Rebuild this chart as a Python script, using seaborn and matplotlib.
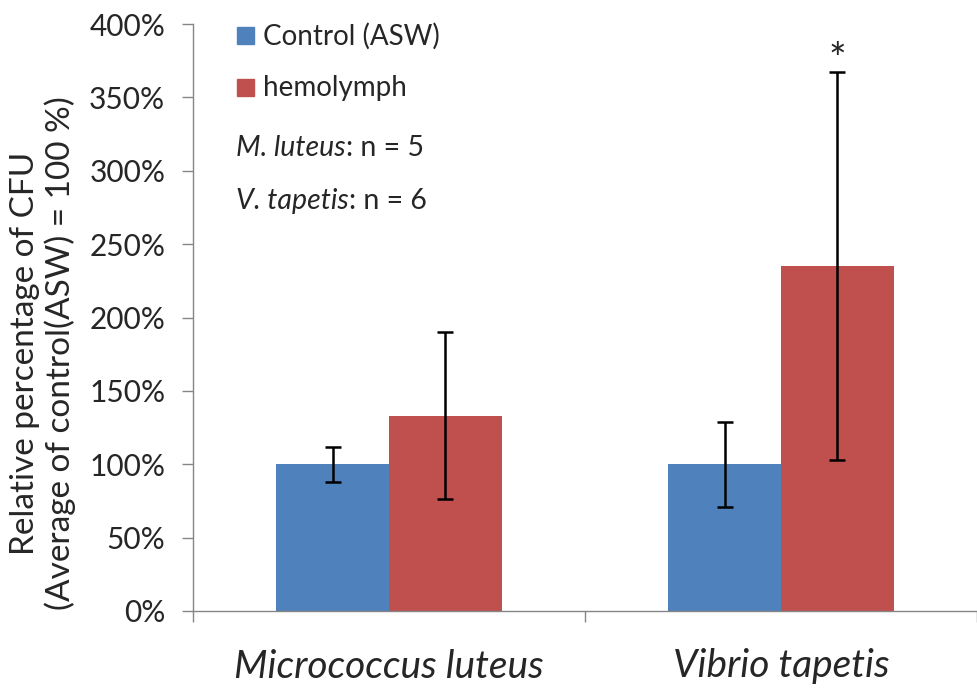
import matplotlib
matplotlib.use("Agg")
import matplotlib.pyplot as plt
import seaborn as sns
import pandas as pd
import numpy as np
from matplotlib.patches import Rectangle

categories = ["Micrococcus luteus", "Vibrio tapetis"]
groups = ["Control (ASW)", "hemolymph"]
control_vals = [100, 100]
hemo_vals = [133, 235]
control_err_low = [88, 71]
control_err_high = [112, 129]
hemo_err_low = [76, 103]
hemo_err_high = [190, 367]
yticks = [0, 50, 100, 150, 200, 250, 300, 350, 400]
colors = ["#4F81BD", "#C0504D"]

sns.set_style("white")
plt.rcParams['font.family'] = ['Lato', 'DejaVu Sans']

df = pd.DataFrame({
    "cat": categories * 2,
    "grp": [groups[0]] * 2 + [groups[1]] * 2,
    "val": control_vals + hemo_vals,
})

fig = plt.figure(figsize=(9.77, 6.88), dpi=100)
ax = fig.add_axes([193/977, 1 - 611/688, 1 - 193/977, (611 - 24)/688])
sns.barplot(data=df, x="cat", y="val", hue="grp", palette=colors, width=0.576,
            gap=0, errorbar=None, ax=ax, legend=False, saturation=1, linewidth=0)

# error bars
w = 0.576 / 2
for i in range(2):
    for j, (vals, lo, hi) in enumerate([(control_vals, control_err_low, control_err_high),
                                         (hemo_vals, hemo_err_low, hemo_err_high)]):
        x = i - w / 2 + j * w
        ax.errorbar(x, vals[i], yerr=[[vals[i] - lo[i]], [hi[i] - vals[i]]],
                    fmt='none', ecolor='black', elinewidth=1.8, capsize=6, capthick=1.8)

ax.text(1 + w / 2, 362, "*", ha='center', va='bottom', fontsize=30)

ax.set_xlim(-0.5, 1.5)
ax.set_ylim(0, 400)
ax.set_yticks(yticks)
ax.set_yticklabels([f"{v}%" for v in yticks], fontsize=21.5)
ax.set_xticks([0, 1])
ax.set_xticklabels(categories, fontsize=28, style='italic')
ax.set_xticks([-0.5, 0.5, 1.5], minor=True)
ax.tick_params(axis='x', which='major', length=0, pad=27)
ax.tick_params(axis='x', which='minor', length=8, color='#868686', width=1, bottom=True)
ax.tick_params(axis='y', length=8, color='#868686', width=1, left=True, pad=12)
ax.set_xlabel("")
ax.set_ylabel("Relative percentage of CFU\n(Average of control(ASW) = 100 %)", fontsize=24,
              linespacing=1.15)
ax.yaxis.label.set_va('center')
ax.yaxis.set_label_coords(43/977, 1 - 353/688, transform=fig.transFigure)

for s in ['top', 'right']:
    ax.spines[s].set_visible(False)
for s in ['left', 'bottom']:
    ax.spines[s].set_color('#868686')
    ax.spines[s].set_linewidth(1)

# legend-like annotations
tr = ax.transAxes
def px(x, y):
    return ((x - 193) / 784, (611 - y) / 587)

for k, (g, c, yy) in enumerate(zip(groups, colors, [36, 88])):
    x0, y0 = px(237, yy + 8)
    ax.add_patch(Rectangle((x0, y0), 17/784, 17/587, transform=tr, color=c, clip_on=False))
    ax.text(*px(263, yy), g, transform=tr, fontsize=20, va='center')

for label, rest, yy in [("M. luteus", ": n = 5", 148), ("V. tapetis", ": n = 6", 201)]:
    t1 = ax.text(*px(236, yy), label, transform=tr, fontsize=20.5, va='center', style='italic')
    ax.annotate(rest, xy=(1, 0), xycoords=t1, fontsize=20.5, va='bottom', ha='left')

fig.savefig("out.png", dpi=100)
